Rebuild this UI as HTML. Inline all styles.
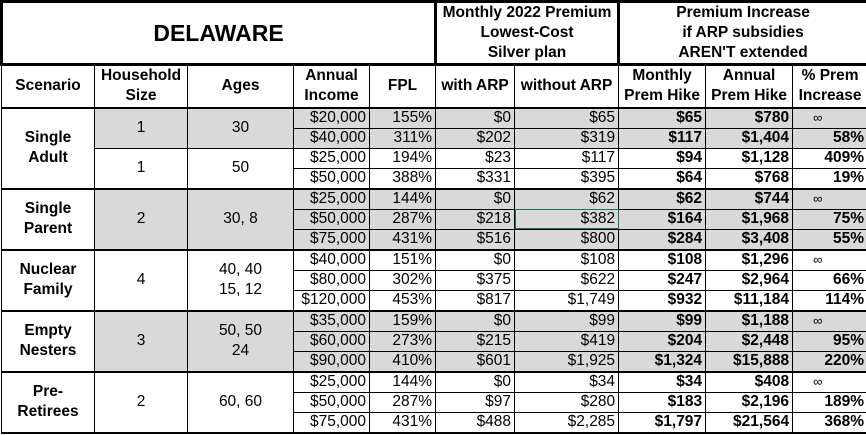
<!DOCTYPE html>
<html><head><style>
html,body{margin:0;padding:0;background:#fff;}
table{border-collapse:collapse;table-layout:fixed;width:866px;font-family:"Liberation Sans",Arial,sans-serif;font-size:15.5px;color:#000;}
td{border:1px solid #000;padding:0 3px;height:19px;line-height:18px;overflow:hidden;white-space:nowrap;text-align:right;}
.h{font-weight:bold;text-align:center;white-space:normal;line-height:20px;font-size:15.5px;}
.c{text-align:center;}
.b{font-weight:bold;}
.g{background:#d9d9d9;}
.s{font-weight:bold;text-align:center;white-space:normal;line-height:20px;}
.tt td,.tt{border-top:2px solid #000;}
.inf{text-align:left;padding-left:20px;font-size:13px;}
</style></head><body>
<table>
<colgroup><col style="width:93px"><col style="width:93px"><col style="width:106px"><col style="width:76px"><col style="width:66px"><col style="width:79px"><col style="width:104px"><col style="width:87px"><col style="width:87px"><col style="width:75px"></colgroup>
<tr style="height:63px"><td colspan="5" class="h" style="font-size:23px;border:3px solid #000;">DELAWARE</td><td colspan="2" class="h" style="border:3px solid #000;">Monthly 2022 Premium<br>Lowest-Cost<br>Silver plan</td><td colspan="3" class="h" style="border:3px solid #000;">Premium Increase<br>if ARP subsidies<br>AREN'T extended</td></tr>
<tr style="height:43px"><td class="h">Scenario</td><td class="h">Household Size</td><td class="h">Ages</td><td class="h">Annual Income</td><td class="h">FPL</td><td class="h">with ARP</td><td class="h">without ARP</td><td class="h">Monthly Prem Hike</td><td class="h">Annual Prem Hike</td><td class="h">% Prem Increase</td></tr>

<tr class="tt"><td rowspan="4" class="s">Single<br>Adult</td><td rowspan="2" class="c g">1</td><td rowspan="2" class="c g">30</td><td class="g">$20,000</td><td class="g">155%</td><td class="g">$0</td><td class="g">$65</td><td class="g b">$65</td><td class="g b">$780</td><td class="g inf">∞</td></tr>
<tr><td class="g">$40,000</td><td class="g">311%</td><td class="g">$202</td><td class="g">$319</td><td class="g b">$117</td><td class="g b">$1,404</td><td class="g b">58%</td></tr>
<tr><td rowspan="2" class="c">1</td><td rowspan="2" class="c">50</td><td>$25,000</td><td>194%</td><td>$23</td><td>$117</td><td class="b">$94</td><td class="b">$1,128</td><td class="b">409%</td></tr>
<tr><td>$50,000</td><td>388%</td><td>$331</td><td>$395</td><td class="b">$64</td><td class="b">$768</td><td class="b">19%</td></tr>

<tr class="tt"><td rowspan="3" class="s">Single<br>Parent</td><td rowspan="3" class="c g">2</td><td rowspan="3" class="c g">30, 8</td><td class="g">$25,000</td><td class="g">144%</td><td class="g">$0</td><td class="g">$62</td><td class="g b">$62</td><td class="g b">$744</td><td class="g inf">∞</td></tr>
<tr><td class="g">$50,000</td><td class="g">287%</td><td class="g">$218</td><td class="g" style="outline:1px solid #217346;outline-offset:-1px">$382</td><td class="g b">$164</td><td class="g b">$1,968</td><td class="g b">75%</td></tr>
<tr><td class="g">$75,000</td><td class="g">431%</td><td class="g">$516</td><td class="g">$800</td><td class="g b">$284</td><td class="g b">$3,408</td><td class="g b">55%</td></tr>

<tr class="tt"><td rowspan="3" class="s">Nuclear<br>Family</td><td rowspan="3" class="c">4</td><td rowspan="3" class="c" style="line-height:20px">40, 40<br>15, 12</td><td>$40,000</td><td>151%</td><td>$0</td><td>$108</td><td class="b">$108</td><td class="b">$1,296</td><td class="inf">∞</td></tr>
<tr><td>$80,000</td><td>302%</td><td>$375</td><td>$622</td><td class="b">$247</td><td class="b">$2,964</td><td class="b">66%</td></tr>
<tr><td>$120,000</td><td>453%</td><td>$817</td><td>$1,749</td><td class="b">$932</td><td class="b">$11,184</td><td class="b">114%</td></tr>

<tr class="tt"><td rowspan="3" class="s">Empty<br>Nesters</td><td rowspan="3" class="c g">3</td><td rowspan="3" class="c g" style="line-height:20px">50, 50<br>24</td><td class="g">$35,000</td><td class="g">159%</td><td class="g">$0</td><td class="g">$99</td><td class="g b">$99</td><td class="g b">$1,188</td><td class="g inf">∞</td></tr>
<tr><td class="g">$60,000</td><td class="g">273%</td><td class="g">$215</td><td class="g">$419</td><td class="g b">$204</td><td class="g b">$2,448</td><td class="g b">95%</td></tr>
<tr><td class="g">$90,000</td><td class="g">410%</td><td class="g">$601</td><td class="g">$1,925</td><td class="g b">$1,324</td><td class="g b">$15,888</td><td class="g b">220%</td></tr>

<tr class="tt"><td rowspan="3" class="s" style="border-bottom:2px solid #000">Pre-<br>Retirees</td><td rowspan="3" class="c" style="border-bottom:2px solid #000">2</td><td rowspan="3" class="c" style="border-bottom:2px solid #000">60, 60</td><td>$25,000</td><td>144%</td><td>$0</td><td>$34</td><td class="b">$34</td><td class="b">$408</td><td class="inf">∞</td></tr>
<tr><td>$50,000</td><td>287%</td><td>$97</td><td>$280</td><td class="b">$183</td><td class="b">$2,196</td><td class="b">189%</td></tr>
<tr style="border-bottom:2px solid #000"><td>$75,000</td><td>431%</td><td>$488</td><td>$2,285</td><td class="b">$1,797</td><td class="b">$21,564</td><td class="b">368%</td></tr>
</table>
</body></html>
